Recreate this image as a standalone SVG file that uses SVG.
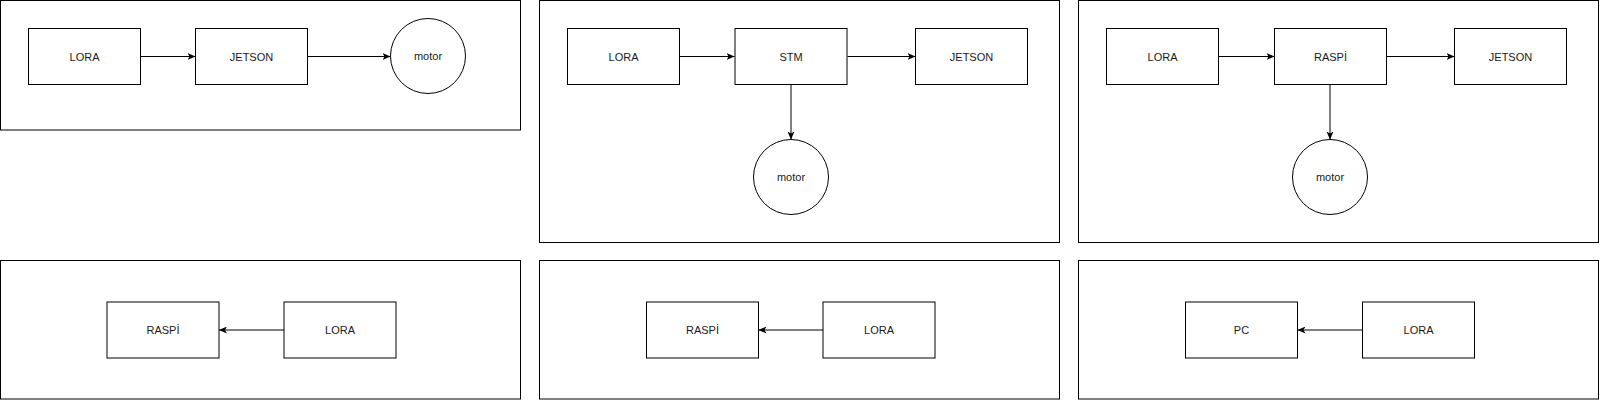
<svg xmlns="http://www.w3.org/2000/svg" width="1600" height="401" viewBox="0 0 1600 401">
<style>
.panel{fill:#fff;stroke:#000;stroke-width:1}
.box{fill:#fff;stroke:#000;stroke-width:1}
.lbl{font-family:"Liberation Sans",Arial,sans-serif;font-size:11px;fill:#1a1a1a;text-anchor:middle;dominant-baseline:central}
.edge{fill:none;stroke:#000;stroke-width:1;marker-end:url(#arr)}
</style>
<defs>
<marker id="arr" viewBox="0 0 8 7" refX="8" refY="3.5" markerWidth="8" markerHeight="7" markerUnits="userSpaceOnUse" orient="auto">
<path d="M0,0 L8,3.5 L0,7 L2,3.5 z" fill="#000"/>
</marker>
</defs>
<rect width="1600" height="401" fill="#fff"/>
<g id="panels">
<rect class="panel" x="0.5" y="0.5" width="520" height="129.5"/>
<rect class="panel" x="539.5" y="0.5" width="520" height="242"/>
<rect class="panel" x="1078.5" y="0.5" width="520" height="242"/>
<rect class="panel" x="0.5" y="260.5" width="520" height="138.5"/>
<rect class="panel" x="539.5" y="260.5" width="520" height="138.5"/>
<rect class="panel" x="1078.5" y="260.5" width="520" height="138.5"/>
</g>
<g id="connectors">
<line class="edge" x1="140.5" y1="56.5" x2="195.5" y2="56.5"/>
<line class="edge" x1="307.5" y1="56.5" x2="390.5" y2="56.5"/>
<line class="edge" x1="679.5" y1="56.5" x2="734.5" y2="56.5"/>
<line class="edge" x1="847.5" y1="56.5" x2="915.5" y2="56.5"/>
<line class="edge" x1="791" y1="84.5" x2="791" y2="139.5"/>
<line class="edge" x1="1218.5" y1="56.5" x2="1274.5" y2="56.5"/>
<line class="edge" x1="1386.5" y1="56.5" x2="1454.5" y2="56.5"/>
<line class="edge" x1="1330" y1="84.5" x2="1330" y2="139.5"/>
<line class="edge" x1="284" y1="330" x2="219" y2="330"/>
<line class="edge" x1="823" y1="330" x2="758.5" y2="330"/>
<line class="edge" x1="1362.5" y1="330" x2="1297.5" y2="330"/>
</g>
<g id="p1-lora"><rect class="box" x="28.5" y="28.5" width="112" height="56"/><text class="lbl" x="84.5" y="56.5">LORA</text></g>
<g id="p1-jetson"><rect class="box" x="195.5" y="28.5" width="112" height="56"/><text class="lbl" x="251.5" y="56.5">JETSON</text></g>
<g id="p1-motor"><circle class="box" cx="428" cy="56" r="37.5"/><text class="lbl" x="428" y="56">motor</text></g>
<g id="p2-lora"><rect class="box" x="567.5" y="28.5" width="112" height="56"/><text class="lbl" x="623.5" y="56.5">LORA</text></g>
<g id="p2-stm"><rect class="box" x="735" y="28.5" width="112" height="56"/><text class="lbl" x="791" y="56.5">STM</text></g>
<g id="p2-jetson"><rect class="box" x="915.5" y="28.5" width="112" height="56"/><text class="lbl" x="971.5" y="56.5">JETSON</text></g>
<g id="p2-motor"><circle class="box" cx="791" cy="177" r="37.5"/><text class="lbl" x="791" y="177">motor</text></g>
<g id="p3-lora"><rect class="box" x="1106.5" y="28.5" width="112" height="56"/><text class="lbl" x="1162.5" y="56.5">LORA</text></g>
<g id="p3-raspi"><rect class="box" x="1274.5" y="28.5" width="112" height="56"/><text class="lbl" x="1330.5" y="56.5">RASPİ</text></g>
<g id="p3-jetson"><rect class="box" x="1454.5" y="28.5" width="112" height="56"/><text class="lbl" x="1510.5" y="56.5">JETSON</text></g>
<g id="p3-motor"><circle class="box" cx="1330" cy="177" r="37.5"/><text class="lbl" x="1330" y="177">motor</text></g>
<g id="p4-raspi"><rect class="box" x="107" y="302" width="112" height="56"/><text class="lbl" x="163" y="330">RASPİ</text></g>
<g id="p4-lora"><rect class="box" x="284" y="302" width="112" height="56"/><text class="lbl" x="340" y="330">LORA</text></g>
<g id="p5-raspi"><rect class="box" x="646.5" y="302" width="112" height="56"/><text class="lbl" x="702.5" y="330">RASPİ</text></g>
<g id="p5-lora"><rect class="box" x="823" y="302" width="112" height="56"/><text class="lbl" x="879" y="330">LORA</text></g>
<g id="p6-pc"><rect class="box" x="1185.5" y="302" width="112" height="56"/><text class="lbl" x="1241.5" y="330">PC</text></g>
<g id="p6-lora"><rect class="box" x="1362.5" y="302" width="112" height="56"/><text class="lbl" x="1418.5" y="330">LORA</text></g>
</svg>
